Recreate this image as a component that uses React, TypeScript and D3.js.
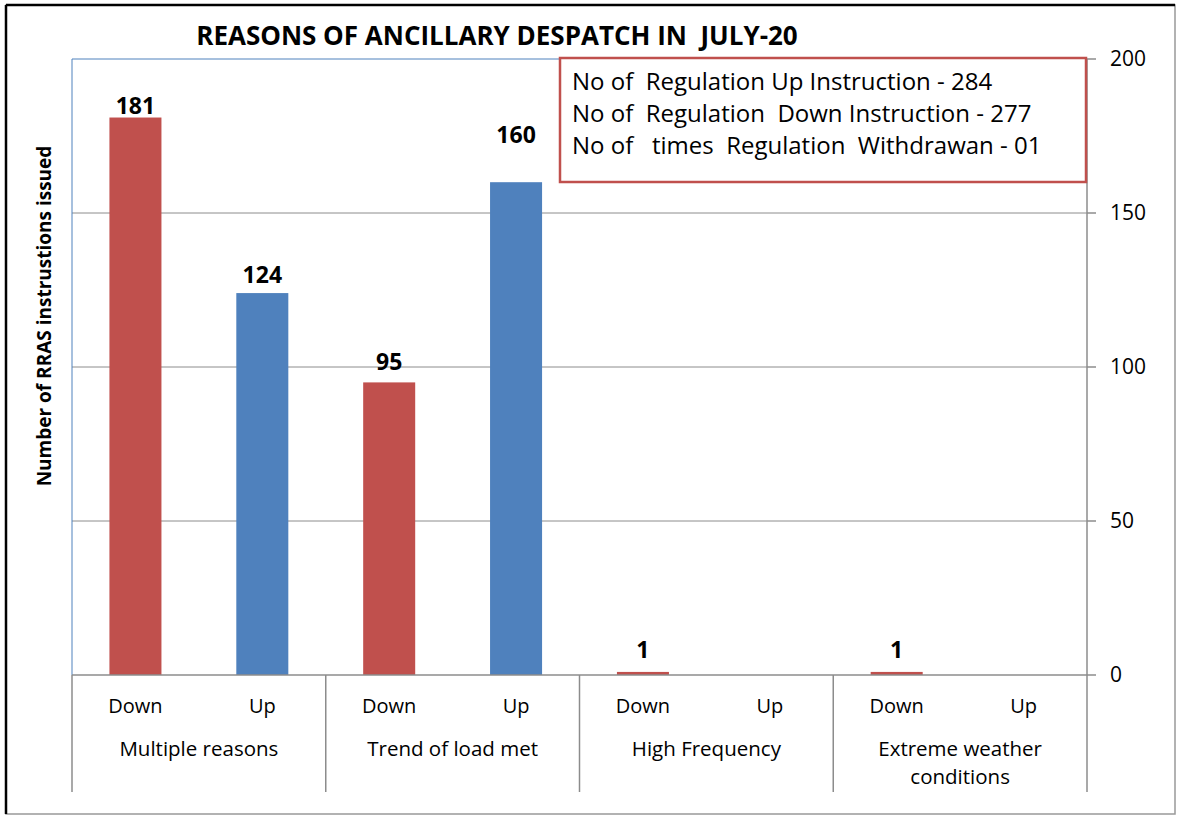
import React from "react";
import * as d3 from "d3";

const groups = ["Multiple reasons", "Trend of load met", "High Frequency", "Extreme weather conditions"];
const groupLines = [["Multiple reasons"], ["Trend of load met"], ["High Frequency"], ["Extreme weather", "conditions"]];
const subs = ["Down", "Up"];
const downValues = [181, 95, 1, 1];
const upValues = [124, 160, 0, 0];
const yTicks = [0, 50, 100, 150, 200];
const noteLines = [
  "No of  Regulation Up Instruction - 284",
  "No of  Regulation  Down Instruction - 277",
  "No of   times  Regulation  Withdrawan - 01",
];

const W = 1180, H = 818;
const L = 72, R = 1087, T = 59, B = 675;
const FONT = "'Open Sans', 'Noto Sans', sans-serif";
// label gaps above bars (Down, Up) per group, as placed in the original
const labelGap = [[4, 10], [12, 39], [14, 10], [14, 10]];

export default function App() {
  const y = d3.scaleLinear().domain([0, 200]).range([B, T]);
  const xg = d3.scaleBand().domain(groups).range([L, R]);
  const xs = d3.scaleBand().domain(subs).range([0, xg.bandwidth()]).paddingInner(0.59).paddingOuter(0.295);
  const bars: { g: string; s: string; v: number; color: string; gap: number }[] = [];
  groups.forEach((g, i) => {
    bars.push({ g, s: "Down", v: downValues[i], color: "#C0504D", gap: labelGap[i][0] });
    bars.push({ g, s: "Up", v: upValues[i], color: "#4F81BD", gap: labelGap[i][1] });
  });
  return (
    <svg width={W} height={H} style={{ position: "absolute", left: 0, top: 0, fontFamily: FONT }}>
      <rect x={0} y={0} width={W} height={H} fill="#fff" />
      <rect x={6} y={5} width={1169} height={809} fill="#fff" stroke="#999" strokeWidth={1.5} />
      <line x1={6} y1={5} x2={1175} y2={5} stroke="#000" strokeWidth={2.5} />
      <line x1={6} y1={5} x2={6} y2={814} stroke="#000" strokeWidth={2.5} />
      <text x={497} y={45} textAnchor="middle" fontSize={26} fontWeight="bold" fill="#000" style={{ whiteSpace: "pre" }}>
        REASONS OF ANCILLARY DESPATCH IN  JULY-20
      </text>
      {yTicks.filter((t) => t > 0 && t < 200).map((t) => (
        <line key={t} x1={L} x2={R} y1={y(t)} y2={y(t)} stroke="#8c8c8c" strokeWidth={1} />
      ))}
      <line x1={L} x2={R} y1={T} y2={T} stroke="#4F81BD" strokeWidth={1} />
      <line x1={L} x2={L} y1={T} y2={B} stroke="#4F81BD" strokeWidth={1} />
      {bars.map((b, i) => {
        const x0 = (xg(b.g) as number) + (xs(b.s) as number);
        return b.v > 0 ? (
          <g key={i}>
            <rect x={x0} y={y(b.v)} width={xs.bandwidth()} height={B - y(b.v)} fill={b.color} />
            <text x={x0 + xs.bandwidth() / 2} y={y(b.v) - b.gap} textAnchor="middle" fontSize={23} fontWeight="bold" fill="#000">
              {b.v}
            </text>
          </g>
        ) : null;
      })}
      <line x1={R} x2={R} y1={T} y2={B} stroke="#8c8c8c" strokeWidth={1.5} />
      {yTicks.map((t) => (
        <g key={t}>
          <line x1={R} x2={R + 9} y1={y(t)} y2={y(t)} stroke="#8c8c8c" strokeWidth={1.5} />
          <text x={1110} y={y(t) + 7} textAnchor="start" fontSize={21} fill="#000">{t}</text>
        </g>
      ))}
      <line x1={L} x2={R} y1={B} y2={B} stroke="#8c8c8c" strokeWidth={1.5} />
      {[...groups.map((g) => xg(g) as number), R].map((x, i) => (
        <line key={i} x1={x} x2={x} y1={B} y2={792} stroke="#8c8c8c" strokeWidth={1.5} />
      ))}
      {groups.map((g, i) => (
        <g key={g}>
          {subs.map((s) => (
            <text key={s} x={(xg(g) as number) + (xs(s) as number) + xs.bandwidth() / 2} y={713} textAnchor="middle" fontSize={20} fill="#000">
              {s}
            </text>
          ))}
          {groupLines[i].map((ln, j) => (
            <text key={j} x={(xg(g) as number) + xg.bandwidth() / 2} y={756 + j * 28} textAnchor="middle" fontSize={20.5} fill="#000">
              {ln}
            </text>
          ))}
        </g>
      ))}
      <text transform={`translate(51,316) rotate(-90)`} textAnchor="middle" fontSize={19} fontWeight="bold" fill="#000">
        Number of RRAS instrustions issued
      </text>
      <rect x={560} y={58} width={526} height={124} fill="#fff" stroke="#C0504D" strokeWidth={2.5} />
      {noteLines.map((ln, i) => (
        <text key={i} x={572} y={90 + i * 32} fontSize={24} fill="#000" style={{ whiteSpace: "pre" }}>
          {ln}
        </text>
      ))}
    </svg>
  );
}
